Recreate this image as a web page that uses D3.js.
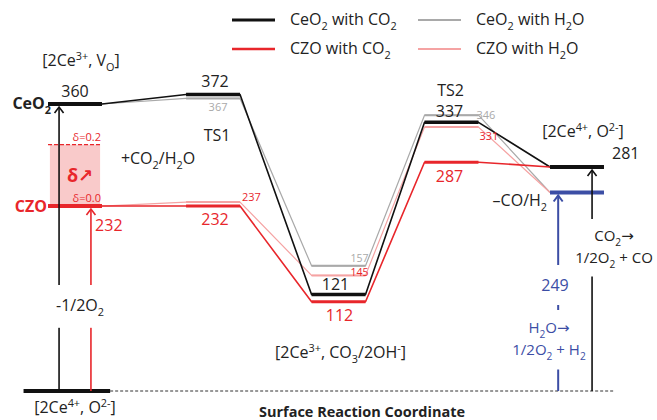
<!DOCTYPE html>
<html>
<head>
<meta charset="utf-8">
<script src="https://cdn.jsdelivr.net/npm/d3@7"></script>
<style>
  body { margin: 0; background: #fff; }
  svg { display: block; font-family: "Open Sans", sans-serif; }
</style>
</head>
<body>
<div id="chart"></div>
<script>
// stages along the reaction coordinate
var stages = ["[2Ce3+, VO]", "TS1", "[2Ce3+, CO3/2OH-]", "TS2", "[2Ce4+, O2-]"];
var stagePos = [0, 1.1, 2.1, 3.0, 4.0];

// energies (kJ/mol) per stage for each series
var ceo2CO2 = [360, 372, 121, 337, 281];
var czoCO2 = [232, 232, 112, 287, 281];
var ceo2H2O = [360, 367, 157, 346, 249];
var czoH2O = [232, 237, 145, 331, 249];
var seriesNames = ["CeO_2 with CO_2", "CZO with CO_2", "CeO_2 with H_2O", "CZO with H_2O"];

// splitting / reduction energies
var splitCO2 = 281, splitH2O = 249;
var reduceCeO2 = 360, reduceCZO = 232;
var deltaLabels = ["δ=0.0", "δ=0.2"];
var deltaEnergy = [232, 309];

var W = 657, H = 420;
var black = "#111", red = "#e8262b", gray = "#a9a9a9", pink = "#f5a3a3", blue = "#3c4ea5", txt = "#222";
var FS = 16;

var svg = d3.select("#chart").append("svg").attr("width", W).attr("height", H);
var defs = svg.append("defs");

var x = d3.scaleLinear().domain([0, 4]).range([75, 577]);
var y = d3.scaleLinear().domain([0, 360]).range([391, 104]);
var hw = 0.215; // half width of a level, in stage units

//Step1:- helper for sub/superscript text (arrows drawn with DejaVu)
function rich(t, str, fs) {
    var re = /([_^])(\{[^}]*\}|.)/g, m, last = 0, shift = 0, parts = [];
    function plain(s) {
        s.split(/([→↗])/).forEach(function(p) {
            if (p) parts.push({s: p, k: 0, arrow: /[→↗]/.test(p)});
        });
    }
    while ((m = re.exec(str))) {
        if (m.index > last) plain(str.slice(last, m.index));
        var s = m[2][0] == "{" ? m[2].slice(1, -1) : m[2];
        parts.push({s: s, k: m[1] == "_" ? 1 : -1});
        last = re.lastIndex;
    }
    if (last < str.length) plain(str.slice(last));
    parts.forEach(function(p) {
        var target = p.k == 1 ? fs * 0.3 : (p.k == -1 ? -fs * 0.38 : 0);
        var ts = t.append("tspan").attr("dy", target - shift).text(p.s);
        if (p.k) ts.attr("font-size", fs * 0.68);
        if (p.arrow) ts.attr("font-family", "DejaVu Sans");
        shift = target;
    });
    return t;
}

function label(g, px, py, str, o) {
    o = o || {};
    var fs = o.fs || FS;
    var t = g.append("text")
        .attr("x", px).attr("y", py)
        .attr("font-size", fs)
        .attr("fill", o.color || txt)
        .attr("text-anchor", o.anchor || "middle")
        .attr("font-weight", o.bold ? "bold" : "normal");
    rich(t, str, fs);
    return t;
}

function marker(id, color, sw) {
    defs.append("marker").attr("id", id)
        .attr("viewBox", "-8 -6 10 12").attr("refX", 0).attr("refY", 0)
        .attr("markerWidth", 10).attr("markerHeight", 12)
        .attr("markerUnits", "userSpaceOnUse").attr("orient", "auto")
        .append("path").attr("d", "M-6,-4.5L0,0L-6,4.5")
        .attr("fill", "none").attr("stroke", color).attr("stroke-width", sw);
}
marker("ah-black", black, 1.6);
marker("ah-red", red, 1.6);
marker("ah-blue", blue, 2);

var lines = svg.append("g");
var texts = svg.append("g");

//Step2:- baseline
lines.append("line")
    .attr("x1", x(0.28)).attr("x2", x(4.3)).attr("y1", y(0)).attr("y2", y(0))
    .attr("stroke", "#333").attr("stroke-width", 1.2).attr("stroke-dasharray", "3,2");
lines.append("line")
    .attr("x1", x(-0.41)).attr("x2", x(0.28)).attr("y1", y(0)).attr("y2", y(0))
    .attr("stroke", black).attr("stroke-width", 4);

//Step3:- delta band for CZO
lines.append("rect")
    .attr("x", x(-0.2)).attr("width", x(0.2) - x(-0.2))
    .attr("y", y(deltaEnergy[1])).attr("height", y(deltaEnergy[0]) - y(deltaEnergy[1]))
    .attr("fill", "#f9caca");
lines.append("line")
    .attr("x1", x(-hw)).attr("x2", x(0.2)).attr("y1", y(deltaEnergy[1])).attr("y2", y(deltaEnergy[1]))
    .attr("stroke", red).attr("stroke-width", 1.2).attr("stroke-dasharray", "4,2");

//Step4:- series levels and connectors
var series = [
    {name: seriesNames[2], values: ceo2H2O, color: gray, lw: 2, cw: 1.2},
    {name: seriesNames[3], values: czoH2O, color: pink, lw: 2, cw: 1.2},
    {name: seriesNames[0], values: ceo2CO2, color: black, lw: 3.5, cw: 1.6},
    {name: seriesNames[1], values: czoCO2, color: red, lw: 3, cw: 1.6}
];

series.forEach(function(s) {
    var pts = [];
    s.values.forEach(function(v, i) {
        pts.push([x(stagePos[i] - hw), y(v)]);
        pts.push([x(stagePos[i] + hw), y(v)]);
    });
    lines.append("path")
        .attr("d", d3.line()(pts))
        .attr("fill", "none").attr("stroke", s.color).attr("stroke-width", s.cw)
        .attr("stroke-linejoin", "round");
    // thick level segments for the middle stages
    lines.selectAll(null).data(s.values.slice(1, 4)).enter().append("line")
        .attr("x1", (d, i) => x(stagePos[i + 1] - hw))
        .attr("x2", (d, i) => x(stagePos[i + 1] + hw))
        .attr("y1", d => y(d)).attr("y2", d => y(d))
        .attr("stroke", s.color).attr("stroke-width", s.lw);
});

// start and end levels
function level(pos, v, color, w) {
    lines.append("line")
        .attr("x1", x(pos - hw)).attr("x2", x(pos + hw))
        .attr("y1", y(v)).attr("y2", y(v))
        .attr("stroke", color).attr("stroke-width", w || 4);
}
level(0, reduceCeO2, black);
level(0, reduceCZO, red);
level(4, splitCO2, black);
level(4, splitH2O, blue);

//Step5:- vertical arrows
function arrow(pos, v, color, id, w) {
    lines.append("line")
        .attr("x1", x(pos)).attr("x2", x(pos))
        .attr("y1", y(0)).attr("y2", y(v) + 3)
        .attr("stroke", color).attr("stroke-width", w)
        .attr("marker-end", "url(#" + id + ")");
}
arrow(-0.127, reduceCeO2, black, "ah-black", 1.6);
arrow(0.127, reduceCZO, red, "ah-red", 1.6);
arrow(4.12, splitCO2, black, "ah-black", 1.6);
arrow(3.85, splitH2O, blue, "ah-blue", 2);

// text with white box behind it, to cut the arrows
function boxed(list, padY) {
    var g = texts.append("g");
    var bg = g.append("g");
    var ts = list.map(a => label(g, a[0], a[1], a[2], a[3]));
    var bb = ts.map(t => t.node().getBBox());
    var x0 = d3.min(bb, b => b.x), x1 = d3.max(bb, b => b.x + b.width);
    var y0 = d3.min(bb, b => b.y), y1 = d3.max(bb, b => b.y + b.height);
    bg.append("rect").attr("x", x0).attr("y", y0 - padY)
        .attr("width", x1 - x0).attr("height", y1 - y0 + 2 * padY).attr("fill", "#fff");
}

//Step6:- labels at the levels
var t0 = x(0), t1 = x(stagePos[1]), t2 = x(stagePos[2]), t3 = x(stagePos[3]), t4 = x(stagePos[4]);
var eR = x(hw) - x(0);

label(texts, t0 + 6, 66, "[2Ce^{3+}, V_O]");
label(texts, t0, y(reduceCeO2) - 7, String(reduceCeO2));
label(texts, x(-hw) + 3, y(reduceCeO2) + 5, "CeO_2", {anchor: "end", bold: true});
label(texts, x(-hw) - 1, y(reduceCZO) + 6, "CZO", {anchor: "end", bold: true, color: red});
label(texts, t0 + eR - 1, y(deltaEnergy[1]) - 4, deltaLabels[1], {anchor: "end", fs: 11, color: red});
label(texts, t0 + eR - 1, y(deltaEnergy[0]) - 4, deltaLabels[0], {anchor: "end", fs: 11, color: red});
label(texts, t0 + 5, (y(deltaEnergy[0]) + y(deltaEnergy[1])) / 2 + 7, "δ↗", {bold: true, fs: 18, color: red});
label(texts, x(0.16), y(reduceCZO) + 25, String(reduceCZO), {anchor: "start", color: red});
label(texts, 158, 164, "+CO_2/H_2O");

label(texts, t1 + 2, y(ceo2CO2[1]) - 7, String(ceo2CO2[1]));
label(texts, t1 + 5, y(ceo2H2O[1]) + 13, String(ceo2H2O[1]), {fs: 11, color: gray});
label(texts, t1 + 4, 141, "TS1");
label(texts, t1 + 2, y(czoCO2[1]) + 19, String(czoCO2[1]), {color: red});
label(texts, t1 + eR + 2, y(czoH2O[1]) - 1, String(czoH2O[1]), {anchor: "start", fs: 11, color: red});

label(texts, t2 + eR + 3, y(ceo2H2O[2]) - 4, String(ceo2H2O[2]), {anchor: "end", fs: 10.5, color: gray});
label(texts, t2 + eR + 3, y(czoH2O[2]) + 1, String(czoH2O[2]), {anchor: "end", fs: 10.5, color: red});
label(texts, t2 - 3, y(ceo2CO2[2]) - 5, String(ceo2CO2[2]));
label(texts, t2 + 1, y(czoCO2[2]) + 19, String(czoCO2[2]), {color: red});
label(texts, t2 + 2, 358, "[2Ce^{3+}, CO_3/2OH^-]");

label(texts, t3 - 1, 96, "TS2");
label(texts, t3 + eR - 2, y(ceo2H2O[3]) + 4, String(ceo2H2O[3]), {anchor: "start", fs: 11, color: gray});
label(texts, t3 - 2, y(ceo2CO2[3]) - 5, String(ceo2CO2[3]));
label(texts, t3 + eR + 1, y(czoH2O[3]) + 13, String(czoH2O[3]), {anchor: "start", fs: 11, color: red});
label(texts, t3 - 2, y(czoCO2[3]) + 20, String(czoCO2[3]), {color: red});

label(texts, t4 + 6, 137, "[2Ce^{4+}, O^{2-}]");
label(texts, t4 + 35, y(splitCO2) - 8, String(splitCO2), {anchor: "start"});
label(texts, t4 - eR - 3, y(splitH2O) + 14, "–CO/H_2", {anchor: "end"});

// labels cutting the arrows
boxed([[x(0.04), 311, "-1/2O_2"]], 9);
boxed([[t4 + 37, 241, "CO_2→", {fs: 15}], [t4 + 37, 263, "1/2O_2 + CO", {fs: 15}]], 6);
boxed([[t4 - 22, 291, String(splitH2O), {color: blue}]], 9);
boxed([[t4 - 28, 333, "H_2O→", {color: blue, fs: 15}], [t4 - 28, 355, "1/2O_2 + H_2", {color: blue, fs: 15}]], 7);

label(texts, t0, 413, "[2Ce^{4+}, O^{2-}]");
label(texts, 362, 417, "Surface Reaction Coordinate", {bold: true, fs: 14.5});

//Step7:- legend
var legend = [
    {name: seriesNames[0], color: black, w: 3, lx: 232, ly: 20},
    {name: seriesNames[1], color: red, w: 2.5, lx: 232, ly: 49},
    {name: seriesNames[2], color: gray, w: 2, lx: 418, ly: 20},
    {name: seriesNames[3], color: pink, w: 2, lx: 418, ly: 49}
];
legend.forEach(function(l) {
    texts.append("line")
        .attr("x1", l.lx).attr("x2", l.lx + 43).attr("y1", l.ly).attr("y2", l.ly)
        .attr("stroke", l.color).attr("stroke-width", l.w);
    label(texts, l.lx + 58, l.ly + 5, l.name, {anchor: "start"});
});
</script>
</body>
</html>
